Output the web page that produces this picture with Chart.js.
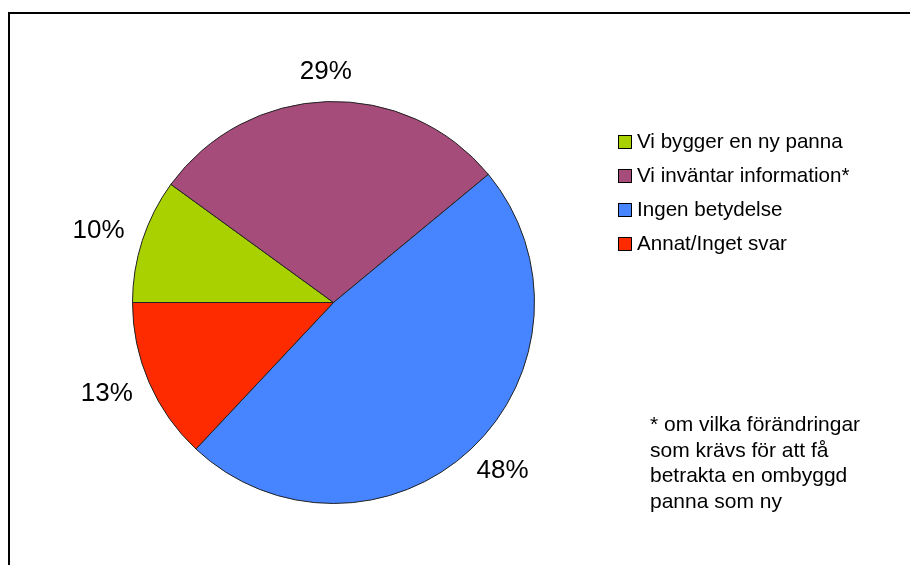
<!DOCTYPE html>
<html>
<head>
<meta charset="utf-8">
<script src="https://cdn.jsdelivr.net/npm/chart.js@4/dist/chart.umd.min.js"></script>
<style>
  html, body { margin: 0; padding: 0; background: #fff; overflow: hidden; }
  #wrap { position: relative; width: 910px; height: 565px; overflow: hidden; }
  #frame { position: absolute; left: 8px; top: 12px; width: 1000px; height: 1000px; border: 2px solid #000; }
  canvas { position: absolute; left: 0; top: 0; }
</style>
</head>
<body>
<div id="wrap">
  <div id="frame"></div>
  <canvas id="chart" width="910" height="565"></canvas>
</div>
<script>
const labels = ['Vi bygger en ny panna', 'Vi inväntar information*', 'Ingen betydelse', 'Annat/Inget svar'];
const values = [10, 29, 48, 13];
const colors = ['#a9d100', '#a54c7a', '#4784ff', '#ff2b00'];
const footnote = ['* om vilka förändringar', 'som krävs för att få', 'betrakta en ombyggd', 'panna som ny'];

const FONT = "'Liberation Sans', Arial, sans-serif";

// percentage labels outside each slice
const outsideLabels = {
    id: 'outsideLabels',
    afterDatasetsDraw(chart) {
        const ctx = chart.ctx;
        const meta = chart.getDatasetMeta(0);
        ctx.save();
        ctx.font = '26px ' + FONT;
        ctx.fillStyle = '#000';
        ctx.textAlign = 'center';
        ctx.textBaseline = 'middle';
        meta.data.forEach((arc, i) => {
            const mid = (arc.startAngle + arc.endAngle) / 2;
            const dx = Math.cos(mid), dy = Math.sin(mid);
            const r = arc.outerRadius + 20;
            const text = values[i] + '%';
            const w = ctx.measureText(text).width;
            const x = arc.x + dx * r + dx * w / 2;
            const y = arc.y + dy * r + dy * 10;
            ctx.fillText(text, x, y);
        });
        ctx.restore();
    }
};

// legend on the right plus the footnote text
const sideLegend = {
    id: 'sideLegend',
    afterDraw(chart) {
        const ctx = chart.ctx;
        ctx.save();
        ctx.font = '20.6px ' + FONT;
        ctx.textBaseline = 'middle';
        chart.data.labels.forEach((lab, i) => {
            const y = 142 + i * 34;
            ctx.fillStyle = colors[i];
            ctx.fillRect(618.5, y - 6.5, 13, 13);
            ctx.strokeStyle = '#000';
            ctx.lineWidth = 1;
            ctx.strokeRect(618.5, y - 6.5, 13, 13);
            ctx.fillStyle = '#000';
            ctx.fillText(lab, 637, y);
        });
        ctx.font = '21px ' + FONT;
        ctx.textBaseline = 'alphabetic';
        footnote.forEach((line, i) => {
            ctx.fillText(line, 650, 431 + i * 25.5);
        });
        ctx.restore();
    }
};

new Chart(document.getElementById('chart'), {
    type: 'pie',
    data: {
        labels: labels,
        datasets: [{
            data: values,
            backgroundColor: colors,
            borderColor: '#222',
            borderWidth: 1
        }]
    },
    options: {
        responsive: false,
        animation: false,
        rotation: 270,
        layout: {
            padding: { top: 101, bottom: 61, left: 132, right: 375 }
        },
        plugins: {
            legend: { display: false },
            tooltip: { enabled: false }
        }
    },
    plugins: [outsideLabels, sideLegend]
});
</script>
</body>
</html>
